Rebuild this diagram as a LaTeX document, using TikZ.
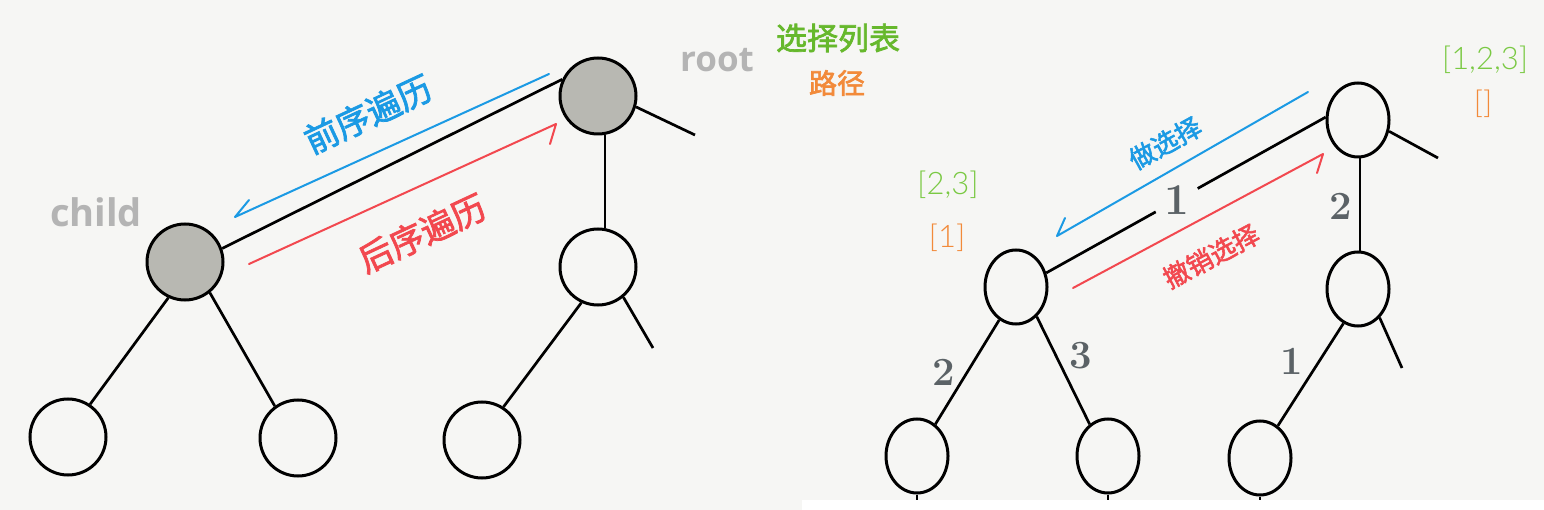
\documentclass[tikz,border=0pt]{standalone}
\usepackage{fontspec}
\newfontfamily\cjk{Noto Sans CJK SC}[FakeBold=2.2]
\newfontfamily\lab{Open Sans}
\newfontfamily\thinf{Lato Light}
\usetikzlibrary{shapes.geometric}
\definecolor{bg}{HTML}{F6F6F4}
\definecolor{nodegray}{HTML}{B8B8B2}
\definecolor{myblue}{HTML}{1B9AE4}
\definecolor{myred}{HTML}{F2484F}
\definecolor{mygreen}{HTML}{66B82C}
\definecolor{lgreen}{HTML}{7AC943}
\definecolor{myorange}{HTML}{F28A3A}
\definecolor{labgray}{HTML}{B4B4B4}
\definecolor{digitgray}{HTML}{5B6266}
\tikzset{
  nd/.style={circle, draw=black, line width=3pt, minimum size=76pt, inner sep=0pt},
  gnd/.style={nd, fill=nodegray},
  ell/.style={ellipse, draw=black, line width=3pt, minimum width=62pt, minimum height=74pt, inner sep=0pt},
  ln/.style={line width=2.7pt, draw=black},
  barrow/.style={draw=myblue, line width=2pt, line cap=round, line join=round},
  rarrow/.style={draw=myred, line width=2pt, line cap=round, line join=round},
  cjktxt/.style={inner sep=0pt, font=\cjk\fontsize{#1}{#1}\selectfont},
  digit/.style={inner sep=0pt, text=digitgray, font=\rmfamily\bfseries\fontsize{#1}{#1}\selectfont},
  gaplabel/.style={circle, fill=bg, minimum size=48pt, inner sep=0pt, text=digitgray, font=\rmfamily\bfseries\fontsize{44}{44}\selectfont},
  graytxt/.style={inner sep=0pt, text=labgray, anchor=base, font=\lab\bfseries\fontsize{#1}{#1}\selectfont},
  brk/.style={inner sep=0pt, font=\thinf\fontsize{#1}{#1}\selectfont}
}
\begin{document}
\begin{tikzpicture}[x=1pt,y=-1pt]
\fill[bg] (0,0) rectangle (1544,510);
\useasboundingbox (0,0) rectangle (1544,510);

% ---------- left tree ----------
\node[gnd] (R) at (598,96) {};
\node[gnd] (C) at (185,262) {};
\node[nd] (RC) at (598,267) {};
\node[nd] (LL) at (68,437) {};
\node[nd] (LR) at (298,438) {};
\node[nd] (RL) at (482,440) {};
\coordinate (Rs) at (695,135);
\coordinate (RCs) at (653,348);

\draw[ln] (C.20) -- (R.155);
\draw[ln] (R.-80) -- (RC.80);
\draw[ln] (R.-16) -- (Rs);
\draw[ln] (C.-115) -- (LL.56);
\draw[ln] (C.-51) -- (LR.126);
\draw[ln] (RC.-115) -- (RL.57);
\draw[ln] (RC.-50) -- (RCs);

% arrows left
\coordinate (b1s) at (549,74);
\coordinate (b1t) at (235,217);
\coordinate (b1h) at (249,200);
\draw[barrow] (b1s) -- (b1t) -- (b1h);
\coordinate (r1s) at (249,264);
\coordinate (r1t) at (556,124);
\coordinate (r1h) at (550,144);
\draw[rarrow] (r1s) -- (r1t) -- (r1h);

\node[cjktxt=34, text=myblue, rotate=25] (t1) at (368,114) {前序遍历};
\node[cjktxt=34, text=myred, rotate=25] (t2) at (422,233) {后序遍历};

\node[graytxt=35] (root) at (717,72) {root};
\node[graytxt=38] (child) at (96,227) {child};

\node[cjktxt=31, text=mygreen] (l1) at (838,38) {选择列表};
\node[cjktxt=28, text=myorange] (l2) at (837,83) {路径};

% ---------- right tree ----------
\node[ell] (Q) at (1358,120) {};
\node[ell] (A) at (1016,287) {};
\node[ell] (QR) at (1358,289) {};
\node[ell] (B) at (917,456) {};
\node[ell] (Cc) at (1108,456) {};
\node[ell] (D) at (1260,458) {};
\coordinate (Qs) at (1438,158);
\coordinate (QRs) at (1402,368);
\coordinate (Bb) at (917,510);
\coordinate (Cb) at (1108,510);
\coordinate (Db) at (1260,510);

\draw[ln] (A.25) -- node[pos=0.467, gaplabel] (n1) {1} (Q.175);
\draw[ln] (Q.-87) -- (QR.87);
\draw[ln] (Q.-20) -- (Qs);
\draw[ln] (A.-117) -- (B.60);
\draw[ln] (A.-55) -- (Cc.120);
\draw[ln] (QR.-113) -- (D.61);
\draw[ln] (QR.-53) -- (QRs);
\draw[ln] (B.south) -- (Bb);
\draw[ln] (Cc.south) -- (Cb);
\draw[ln] (D.south) -- (Db);

\node[digit=40] (n2) at (1341,206) {2};
\node[digit=40] (n3) at (944,372) {2};
\node[digit=40] (n4) at (1081,356) {3};
\node[digit=40] (n5) at (1292,361) {1};

% arrows right
\coordinate (b2s) at (1308,92);
\coordinate (b2t) at (1057,236);
\coordinate (b2h) at (1065,218);
\draw[barrow] (b2s) -- (b2t) -- (b2h);
\coordinate (r2s) at (1073,288);
\coordinate (r2t) at (1323,154);
\coordinate (r2h) at (1317,173);
\draw[rarrow] (r2s) -- (r2t) -- (r2h);

\node[cjktxt=26, text=myblue, rotate=29] (t3) at (1165,143) {做选择};
\node[cjktxt=26, text=myred, rotate=28] (t4) at (1211,256) {撤销选择};

\node[brk=31, text=lgreen] (s1) at (1485,60) {[1,2,3]};
\node[brk=31, text=myorange] (s2) at (1483,104) {[]};
\node[brk=31, text=lgreen] (s3) at (948,185) {[2,3]};
\node[brk=31, text=myorange] (s4) at (947,238) {[1]};

\fill[white] (802,500) rectangle (1544,510);
\end{tikzpicture}
\end{document}
